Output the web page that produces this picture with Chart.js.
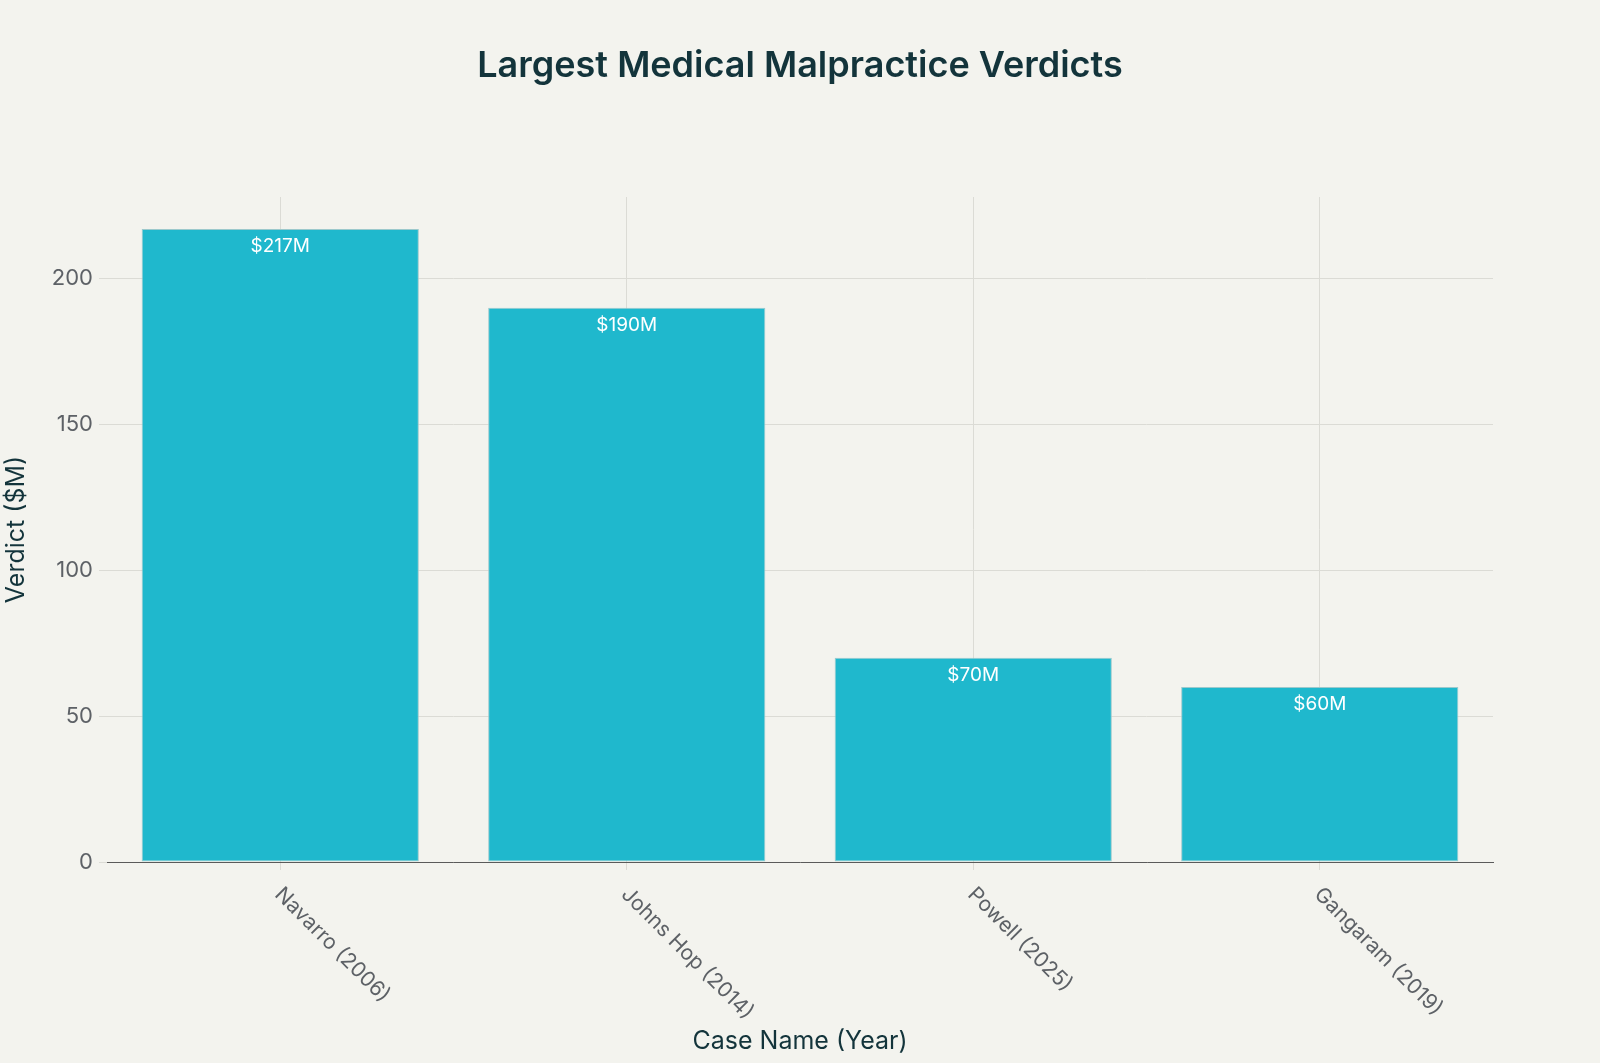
<!DOCTYPE html>
<html>
<head>
<meta charset="utf-8">
<script src="https://cdn.jsdelivr.net/npm/chart.js@4.4.1/dist/chart.umd.min.js"></script>
<style>
  html, body { margin: 0; padding: 0; background: #f3f3ee; }
  #wrap { width: 1600px; height: 1063px; }
</style>
</head>
<body>
<div id="wrap"><canvas id="verdictChart"></canvas></div>
<script>
// chart data
const caseNames = ['Navarro (2006)', 'Johns Hop (2014)', 'Powell (2025)', 'Gangaram (2019)'];
const verdicts = [217, 190, 70, 60];
const verdictLabels = ['$217M', '$190M', '$70M', '$60M'];
const yTicks = [0, 50, 100, 150, 200];
const chartTitle = 'Largest Medical Malpractice Verdicts';

const FONT = 'Inter, "Liberation Sans", Arial, sans-serif';
const tickColor = '#5d6166';
const darkText = '#13343b';

// draws the title, value labels inside the bars and the slanted category labels
const labelPlugin = {
    id: 'labelPlugin',
    afterDatasetsDraw(chart) {
        const ctx = chart.ctx;
        const bars = chart.getDatasetMeta(0).data;
        ctx.save();
        ctx.fillStyle = '#ffffff';
        ctx.font = '19px ' + FONT;
        ctx.textAlign = 'center';
        ctx.textBaseline = 'middle';
        bars.forEach((bar, i) => {
            ctx.fillText(verdictLabels[i], bar.x, bar.y + 17);
        });
        ctx.restore();
    },
    afterDraw(chart) {
        const ctx = chart.ctx;
        const xScale = chart.scales.x;
        ctx.save();
        ctx.fillStyle = darkText;
        ctx.font = '600 36px ' + FONT;
        ctx.textAlign = 'center';
        ctx.textBaseline = 'middle';
        ctx.fillText(chartTitle, chart.width / 2, 66);

        ctx.fillStyle = tickColor;
        ctx.font = '21px ' + FONT;
        ctx.textAlign = 'left';
        caseNames.forEach((name, i) => {
            const x = xScale.getPixelForTick(i);
            ctx.save();
            ctx.translate(x - 2, xScale.top + 29);
            ctx.rotate(Math.PI / 4);
            ctx.fillText(name, 0, 0);
            ctx.restore();
        });
        ctx.restore();
    }
};

const bgPlugin = {
    id: 'bgPlugin',
    beforeDraw(chart) {
        const ctx = chart.ctx;
        ctx.save();
        ctx.fillStyle = '#f3f3ee';
        ctx.fillRect(0, 0, chart.width, chart.height);
        ctx.restore();
    }
};

const ctx = document.getElementById('verdictChart').getContext('2d');
new Chart(ctx, {
    type: 'bar',
    data: {
        labels: caseNames,
        datasets: [{
            data: verdicts,
            backgroundColor: '#1fb8cd',
            borderColor: '#9cc9cc',
            borderWidth: 1,
            borderSkipped: false,
            categoryPercentage: 0.8,
            barPercentage: 1.0
        }]
    },
    options: {
        responsive: true,
        maintainAspectRatio: false,
        animation: false,
        layout: { padding: { left: 0, right: 107, top: 197, bottom: 0 } },
        plugins: {
            legend: { display: false },
            tooltip: { enabled: false },
            title: { display: false }
        },
        scales: {
            x: {
                offset: true,
                grid: {
                    offset: false,
                    color: '#dbdbd5',
                    lineWidth: 1,
                    tickLength: 8,
                    drawTicks: true
                },
                border: { display: true, color: '#5a5a5a', width: 1 },
                ticks: { color: 'rgba(0,0,0,0)', font: { family: FONT, size: 21 }, maxRotation: 0, minRotation: 0 },
                title: {
                    display: true,
                    text: 'Case Name (Year)',
                    color: darkText,
                    font: { family: FONT, size: 25, lineHeight: 1.2 },
                    padding: { top: 0, bottom: 7 }
                },
                afterFit(scale) { scale.height = 201; }
            },
            y: {
                min: 0,
                max: 228,
                grid: { color: '#dbdbd5', lineWidth: 1, tickLength: 8 },
                border: { display: false },
                ticks: {
                    stepSize: 50,
                    includeBounds: false,
                    padding: 6,
                    color: tickColor,
                    font: { family: FONT, size: 22 },
                    callback: function(value) {
                        return yTicks.includes(value) ? value : '';
                    }
                },
                title: {
                    display: true,
                    text: 'Verdict ($M)',
                    color: darkText,
                    font: { family: FONT, size: 25, lineHeight: 1.2 },
                    padding: { top: 1, bottom: 0 }
                },
                afterFit(scale) { scale.width = 107; }
            }
        }
    },
    plugins: [bgPlugin, labelPlugin]
});
</script>
</body>
</html>
